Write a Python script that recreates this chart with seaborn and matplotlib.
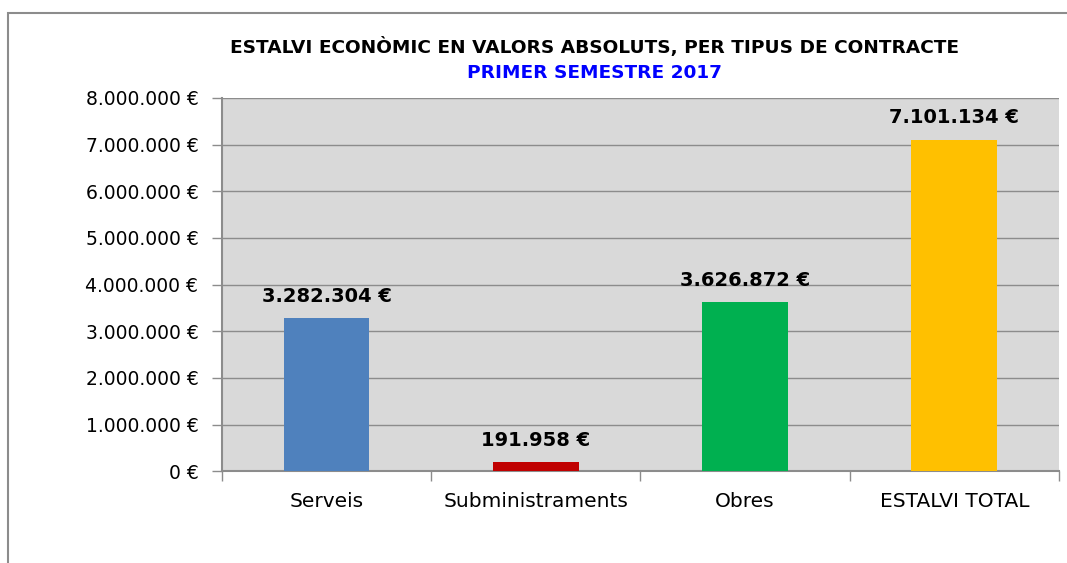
import matplotlib.pyplot as plt
import matplotlib.ticker as mticker
from matplotlib.patches import Rectangle
import pandas as pd
import seaborn as sns

categories = ["Serveis", "Subministraments", "Obres", "ESTALVI TOTAL"]
values = [3282304, 191958, 3626872, 7101134]
colors = ["#4F81BD", "#C00000", "#00B050", "#FFC000"]
y_ticks = [0, 1000000, 2000000, 3000000, 4000000, 5000000, 6000000, 7000000, 8000000]


def euro(v):
    return "{:,.0f} €".format(v).replace(",", ".")


df = pd.DataFrame({"tipus": categories, "estalvi": values})

sns.set_style("white")
plt.rcParams["font.family"] = ["DejaVu Sans"]
plt.rcParams["text.color"] = "black"
plt.rcParams["xtick.labelcolor"] = "black"
plt.rcParams["ytick.labelcolor"] = "black"

fig = plt.figure(figsize=(10.67, 5.63), dpi=100)
ax = fig.add_axes([0.208, 0.163, 0.7845, 0.663])
ax.set_facecolor("#D9D9D9")

sns.barplot(df, x="tipus", y="estalvi", hue="tipus", palette=colors,
            legend=False, width=0.41, saturation=1, linewidth=0, ax=ax, zorder=3)

ax.set_ylim(0, 8000000)
ax.set_xlim(-0.5, len(categories) - 0.5)
ax.set_yticks(y_ticks)
ax.yaxis.set_major_formatter(mticker.FuncFormatter(lambda v, p: euro(v)))
ax.yaxis.grid(True, color="#8C8C8C", linewidth=1.0, zorder=1)
ax.set_axisbelow(True)

ax.set_xticks(range(len(categories)))
ax.set_xticklabels(categories)
ax.set_xticks([i - 0.5 for i in range(len(categories) + 1)], minor=True)
ax.tick_params(axis="x", which="major", length=0, pad=15, labelsize=14.5, labelcolor="black")
ax.tick_params(axis="x", which="minor", length=7, width=1.0, color="#8C8C8C", direction="out")
ax.tick_params(axis="y", length=7, width=1.0, color="#8C8C8C", direction="out", pad=10,
               labelsize=13.5, labelcolor="black")
ax.tick_params(axis="y", left=True)
ax.tick_params(axis="x", which="minor", bottom=True)

for s in ["top", "right"]:
    ax.spines[s].set_visible(False)
for s in ["left", "bottom"]:
    ax.spines[s].set_color("#8C8C8C")
    ax.spines[s].set_linewidth(1.5)

ax.set_xlabel("")
ax.set_ylabel("")

for i, v in enumerate(values):
    ax.annotate(euro(v), (i, v), xytext=(0, 9), textcoords="offset points",
                ha="center", va="bottom", fontsize=14, fontweight="bold", color="black")

fig.text(0.557, 0.917, "ESTALVI ECONÒMIC EN VALORS ABSOLUTS, PER TIPUS DE CONTRACTE",
         ha="center", va="center", fontsize=13.3, fontweight="bold", color="black")
fig.text(0.557, 0.870, "PRIMER SEMESTRE 2017", ha="center", va="center",
         fontsize=13.3, fontweight="bold", color="#0000FF")

fig.patches.append(Rectangle((0.0075, -0.1), 1.2, 1.077, transform=fig.transFigure,
                             fill=False, edgecolor="#8C8C8C", linewidth=1.5))

fig.savefig("out.png", dpi=100)
